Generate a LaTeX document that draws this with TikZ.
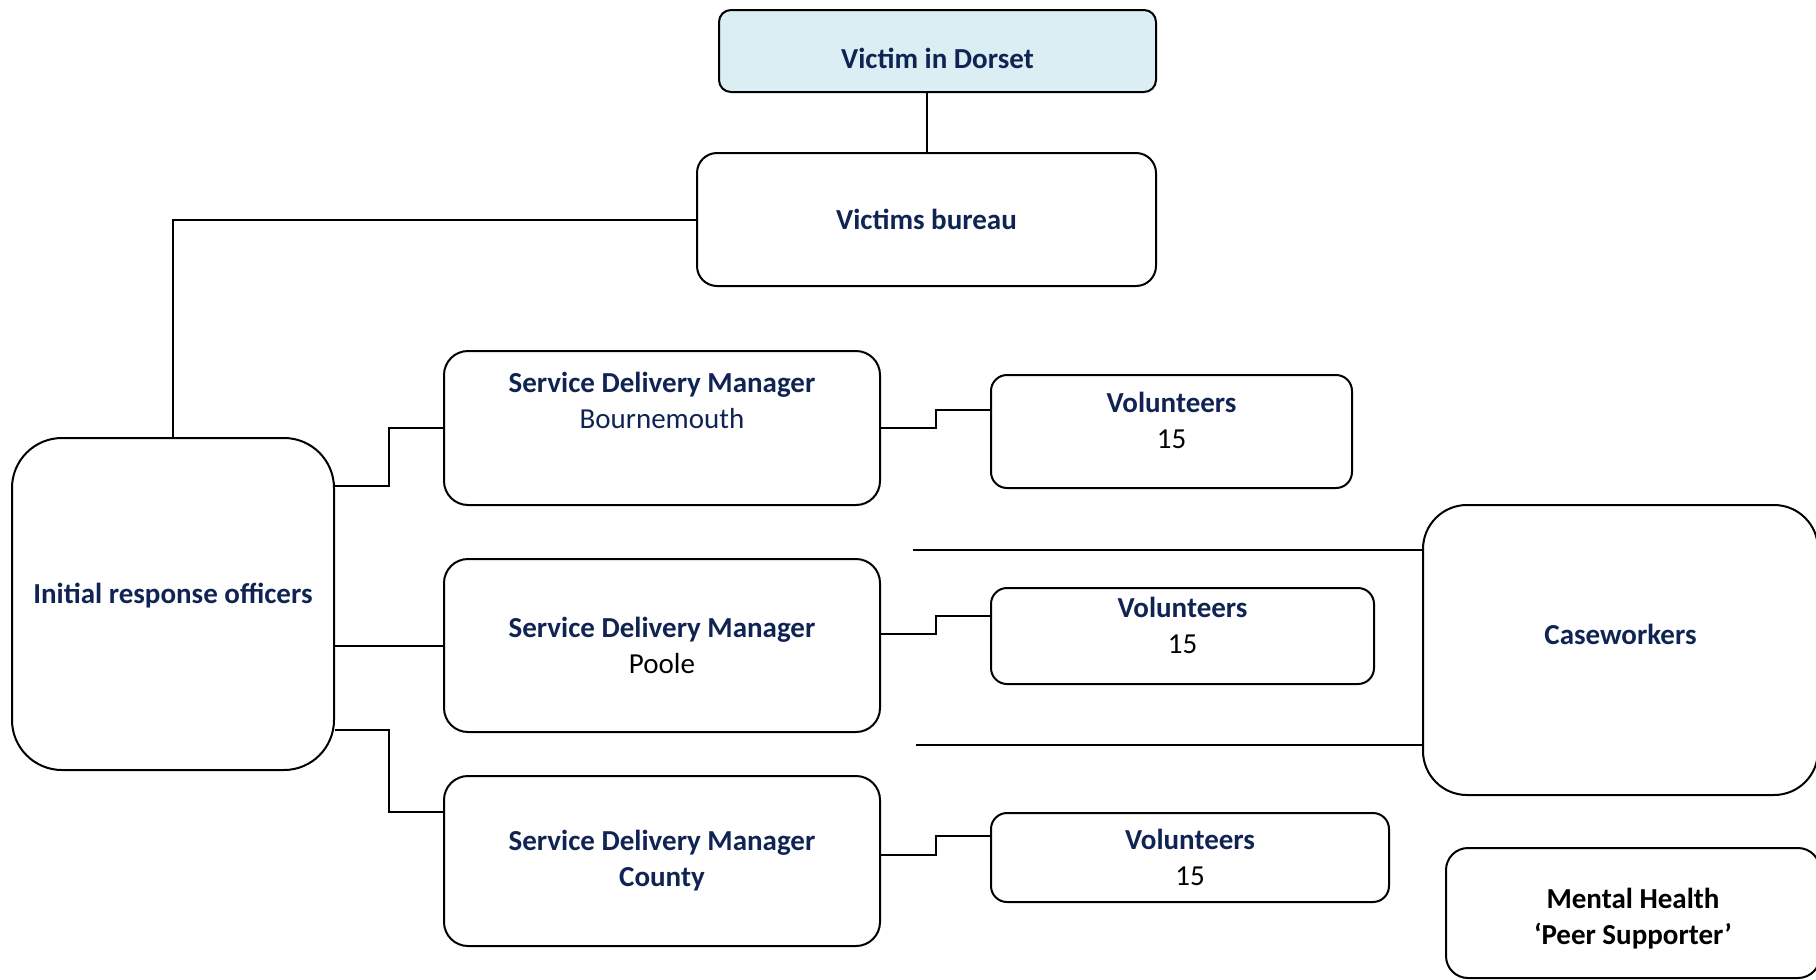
\documentclass[tikz,border=0pt]{standalone}
\usepackage{fontspec}
\setmainfont{Carlito}
\usetikzlibrary{positioning}
\definecolor{colorVictim}{RGB}{219,238,243}
\definecolor{colorNavy}{RGB}{16,36,84}

\begin{document}
\begin{tikzpicture}[
    x=0.5pt, y=-0.5pt,
    node distance=20pt,
    box/.style={rectangle, draw=black, line width=1pt, align=center, inner sep=0pt,
                font=\fontsize{14.5}{18}\selectfont\bfseries, text=colorNavy},
    sdm/.style={box, rounded corners=12pt, minimum width=218pt},
    vol/.style={box, rounded corners=8pt},
    link/.style={line width=1pt, color=black}
]
\useasboundingbox (0,0) rectangle (1816,980);

% Top of the chart
\node[box, fill=colorVictim, rounded corners=6pt, minimum width=218.5pt, minimum height=41pt] (Victim) at (937.5,51) {\mbox{}\\Victim in Dorset};
\node[box, rounded corners=10pt, minimum width=229.5pt, minimum height=66.5pt] (Bureau) at (926.5,219.5) {Victims bureau};

% Left column
\node[box, rounded corners=25pt, minimum width=161pt, minimum height=166pt] (IRO) at (173,604) {Initial response officers\\[-7pt]\mbox{}};

% Service delivery managers
\node[sdm, minimum height=77pt] (SDMb) at (662,428) {Service Delivery Manager\\
{\mdseries Bournemouth}\\[10pt]\mbox{}};
\node[sdm, minimum height=86.5pt, below=26pt of SDMb] (SDMp) {Service Delivery Manager\\
{\mdseries\color{black} Poole}};
\node[sdm, minimum height=85pt, below=21pt of SDMp] (SDMc) {Service Delivery Manager\\
County};

% Volunteers
\node[vol, minimum width=180.5pt, minimum height=56.5pt] (Vol1) at (1171.5,431.5) {Volunteers\\
{\mdseries\color{black} 15}\\[-7pt]\mbox{}};
\node[vol, minimum width=191.5pt, minimum height=48pt] (Vol2) at (1182.5,636) {Volunteers\\
{\mdseries\color{black} 15}\\[-7pt]\mbox{}};
\node[vol, minimum width=199pt, minimum height=44.5pt] (Vol3) at (1190,857.5) {Volunteers\\
{\mdseries\color{black} 15}};

% Right column
\node[box, rounded corners=22pt, minimum width=197.5pt, minimum height=145pt] (Case) at (1620.5,650) {Caseworkers\\[-2pt]\mbox{}};
\node[box, text=black, rounded corners=11pt, minimum width=187pt, minimum height=65pt] (Peer) at (1633,913) {\mbox{}\\[-2.6pt]Mental Health\\
‘Peer Supporter’};

% Connectors
\draw[link] (Bureau.north |- Victim.south) -- (Bureau.north);
\draw[link] (Bureau.west) -| (IRO.north);
\draw[link] (IRO.east |- 0,486) -- ++(54,0) |- (SDMb.west);
\draw[link] (IRO.east |- SDMp.west) -- (SDMp.west);
\draw[link] (IRO.east |- 0,730) -- ++(54,0) |- (SDMc.west |- 0,812);
\draw[link] (SDMb.east) -- ++(55,0) |- (Vol1.west |- 0,410);
\draw[link] (SDMp.east |- 0,634) -- ++(55,0) |- (Vol2.west |- 0,616);
\draw[link] (SDMc.east |- 0,855) -- ++(55,0) |- (Vol3.west |- 0,836);

% Open lines to the caseworkers
\coordinate (cwTop) at (913,550);
\coordinate (cwBottom) at (916,745);
\draw[link] (cwTop) -- (Case.west |- cwTop);
\draw[link] (cwBottom) -- (Case.west |- cwBottom);

\end{tikzpicture}
\end{document}
